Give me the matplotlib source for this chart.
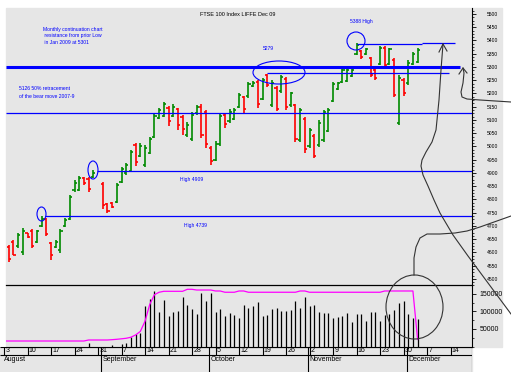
import numpy as np
import matplotlib
matplotlib.use("Agg")
import matplotlib.pyplot as plt
from matplotlib.patches import Ellipse, Rectangle
from matplotlib.lines import Line2D
from matplotlib.ticker import MultipleLocator

nan = np.nan

# weekday index 0 = Mon 3 Aug 2009, bars run 4 Aug .. 3 Dec (31 Aug is a holiday)
bar_days = list(range(1, 89))

opens = [4620, 4640, 4625, 4600, 4672, 4680, 4640, 4700, 4725, 4635,
         4620, 4610, 4700, 4728, 4835, 4835, 4880, 4878, 4885, nan,
         4860, 4782, 4785, 4792, 4866, 4900, 4908, 5005, 4965, 4930,
         4975, 5035, 5108, 5115, 5145, 5115, 5140, 5112, 5045, 5030,
         5125, 5150, 5130, 4995, 4950, 5010, 5120, 5095, 5105, 5150,
         5185, 5190, 5228, 5245, 5180, 5268, 5155, 5220, 5208, 5255,
         5155, 5155, 5025, 5105, 5000, 5040, 5005, 5025, 5060, 5172,
         5217, 5244, 5248, 5265, 5350, 5360, 5348, 5334, 5290, 5312,
         5372, 5312, 5328, 5090, 5250, 5240, 5312, 5320]
highs = [4628, 4647, 4673, 4692, 4675, 4688, 4685, 4738, 4730, 4640,
         4647, 4688, 4730, 4817, 4873, 4889, 4885, 4885, 4911, nan,
         4866, 4787, 4790, 4862, 4923, 4938, 4987, 5013, 5013, 5006,
         5036, 5123, 5145, 5168, 5153, 5160, 5145, 5119, 5092, 5130,
         5157, 5160, 5138, 5002, 5021, 5123, 5126, 5141, 5145, 5202,
         5191, 5243, 5247, 5251, 5258, 5274, 5251, 5228, 5270, 5262,
         5206, 5160, 5145, 5111, 5070, 5047, 5100, 5138, 5145, 5243,
         5243, 5296, 5296, 5296, 5391, 5364, 5372, 5338, 5296, 5379,
         5379, 5372, 5334, 5270, 5258, 5326, 5357, 5372]
lows = [4564, 4590, 4617, 4590, 4655, 4617, 4636, 4696, 4662, 4572,
        4617, 4598, 4696, 4722, 4828, 4832, 4855, 4828, 4881, nan,
        4764, 4749, 4768, 4787, 4862, 4892, 4904, 4926, 4960, 4923,
        4972, 5032, 5104, 5111, 5077, 5111, 5062, 5043, 5036, 5021,
        5119, 5032, 4994, 4930, 4945, 5002, 5070, 5089, 5100, 5145,
        5126, 5183, 5225, 5145, 5175, 5225, 5149, 5134, 5202, 5138,
        5149, 5017, 5017, 4975, 4994, 4957, 4998, 5017, 5055, 5168,
        5213, 5240, 5243, 5262, 5345, 5330, 5345, 5262, 5251, 5308,
        5300, 5308, 5187, 5081, 5190, 5232, 5308, 5315]
closes = [4575, 4592, 4665, 4680, 4660, 4625, 4680, 4725, 4668, 4590,
          4640, 4682, 4722, 4810, 4862, 4880, 4862, 4840, 4900, nan,
          4780, 4755, 4772, 4855, 4915, 4930, 4980, 4940, 5000, 4995,
          5030, 5115, 5138, 5160, 5095, 5150, 5080, 5065, 5080, 5120,
          5150, 5045, 5010, 4945, 5010, 5115, 5085, 5130, 5138, 5195,
          5140, 5236, 5240, 5160, 5250, 5232, 5240, 5140, 5262, 5150,
          5200, 5030, 5138, 4990, 5062, 4965, 5090, 5130, 5138, 5236,
          5238, 5290, 5290, 5290, 5383, 5338, 5366, 5270, 5258, 5372,
          5308, 5366, 5195, 5260, 5200, 5315, 5350, 5365]

# volume and open interest, weekday index 0..88
vol_days = list(range(0, 89))
volume = [0] * 18 + [11000, 0, 0, 0, 0, 4300, 0, 7100, 9100, 26000,
          35700, 39500, 115700, 134800, 158600, 97700, 132900, 88000, 97700, 102300,
          142300, 118600, 107100, 92900, 153700, 130000, 153700, 97700, 106200, 88000,
          94800, 90000, 80500, 118600, 109100, 115700, 126200, 87100, 90000, 107100,
          109100, 101400, 101400, 104300, 130000, 110900, 142300, 116600, 118600, 97700,
          96600, 94800, 80500, 85100, 87100, 94800, 69100, 92900, 92000, 72900,
          97700, 97700, 72900, 90000, 92000, 104300, 123400, 130000, 92900, 82300,
          77700]
open_interest = [15700] * 18 + [18600] * 5 + [19500, 20600, 22000, 23500, 26500,
                 33000, 43000, 72000, 120000, 148000, 155000] + [157700] * 5 + \
                [163400] * 2 + [161400] * 4 + [158600] * 2 + [155000] * 3 + \
                [158600] * 2 + [155000] * 11 + [158600] * 2 + [155000] * 16 + \
                [158600] * 7 + [20000]

week_days = list(range(0, 100, 5))
week_labels = ["3", "10", "17", "24", "31", "7", "14", "21", "28", "5",
               "12", "19", "26", "2", "9", "16", "23", "30", "7", "14"]
month_names = ["August", "September", "October", "November", "December"]
month_first_day = [0, 21, 44, 65, 86]

resistance = 5300
retracement = 5126
high_4909 = 4909
high_4739 = 4739
level_5279 = 5279
high_5388 = 5388

W, H = 511, 372
GRAY = "#e6e6e6"
BLUE = "#0000ff"
INK = "#333333"


def fxy(x, y):
    # pixel position in the picture -> figure fraction
    return x / W, 1 - y / H


plt.rcParams["font.family"] = ["Liberation Sans", "DejaVu Sans"]

fig = plt.figure(figsize=(W / 100, H / 100), dpi=100)
fig.patches.append(Rectangle(fxy(6, 346.5), 496 / W, 338.5 / H, color=GRAY,
                             transform=fig.transFigure, zorder=-5))
fig.patches.append(Rectangle((0, 0), 472 / W, 25.5 / H, color=GRAY,
                             transform=fig.transFigure, zorder=-5))

ax = fig.add_axes([6 / W, 1 - 285 / H, 466 / W, 277 / H])
axv = fig.add_axes([6 / W, 1 - 346.5 / H, 466 / W, 61.5 / H])
axd = fig.add_axes([0, 0, 472 / W, 25.5 / H])

x0, x1 = 0.4255, 99.57
for a in (ax, axv):
    a.set_facecolor("none")
    a.set_xlim(x0, x1)
    a.tick_params(axis="x", bottom=False, labelbottom=False)
    a.yaxis.tick_right()
    for s in ("left", "top", "bottom"):
        a.spines[s].set_visible(False)
    a.spines["right"].set_linewidth(0.8)

# price panel
ax.set_ylim(4477.2, 5522.6)
ax.set_yticks(np.arange(4500, 5501, 50))
ax.yaxis.set_minor_locator(MultipleLocator(12.5))
ax.tick_params(axis="y", which="major", length=3, width=0.6, labelsize=3.6, pad=7.5)
ax.tick_params(axis="y", which="minor", length=1.5, width=0.5)

x = np.array(bar_days, dtype=float)
o, h, l, c = (np.array(v, dtype=float) for v in (opens, highs, lows, closes))
cols = np.where(c >= o, "#008a00", "#ff0000")
ax.vlines(x, l, h, colors=cols, lw=1.2)
ax.hlines(o, x - 0.45, x, colors=cols, lw=1.2)
ax.hlines(c, x, x + 0.45, colors=cols, lw=1.2)

ax.hlines(resistance, x0, 97.0, colors=BLUE, lw=2.2)
ax.hlines(retracement, x0, x1, colors=BLUE, lw=0.9)
ax.hlines(high_4909, 19.8, x1, colors=BLUE, lw=0.9)
ax.hlines(high_4739, 8.7, x1, colors=BLUE, lw=0.9)
ax.hlines(level_5279, 56.0, 94.7, colors=BLUE, lw=0.9)
ax.hlines(high_5388, 75.0, 89.0, colors=BLUE, lw=0.9)
ax.hlines(high_5388 + 4, 89.0, 96.0, colors=BLUE, lw=0.9)

# volume panel
axv.set_ylim(0, 175714)
axv.spines["top"].set_visible(True)
axv.spines["top"].set_linewidth(0.9)
axv.spines["bottom"].set_visible(True)
axv.spines["bottom"].set_linewidth(0.8)
axv.set_yticks([50000, 100000, 150000])
axv.yaxis.set_minor_locator(MultipleLocator(25000))
axv.tick_params(axis="y", which="major", length=3, width=0.6, labelsize=5, pad=2.5)
axv.tick_params(axis="y", which="minor", length=1.5, width=0.5)
vd = np.array(vol_days, dtype=float)
vv = np.array(volume, dtype=float)
axv.vlines(vd[vv > 0], 0, vv[vv > 0], colors="black", lw=0.9)
axv.plot(vd, open_interest, color="#ff00ff", lw=0.9)

# date strip
axd.set_xlim(-0.851, x1)
axd.set_ylim(0, 1)
axd.axis("off")
axd.hlines([0.99, 0.667], -0.851, x1, colors="black", lw=0.8)
axd.vlines(week_days, 0.667, 1, colors="black", lw=0.8)
axd.vlines(x1 - 0.05, 0, 1, colors="black", lw=0.8)
for d, lab in zip(week_days, week_labels):
    axd.text(d + 0.3, 0.83, lab, fontsize=5, ha="left", va="center")
for d, name in zip(month_first_day, month_names):
    if d > 0:
        axd.vlines(d - 0.3, 0, 1, colors="black", lw=0.8)
    axd.text(d + 0.05, 0.48, name, fontsize=5, ha="left", va="center")

# hand marks on the chart
for cx, cy, w, hh in [(41.5, 214, 9, 14), (93, 170, 10, 18), (279, 72.5, 52, 23), (356, 41, 18, 18)]:
    fig.patches.append(Ellipse(fxy(cx, cy), w / W, hh / H, fill=False, ec=BLUE, lw=0.8,
                               transform=fig.transFigure, zorder=5))
fig.patches.append(Ellipse(fxy(414.5, 307), 57 / W, 64 / H, fill=False, ec=INK, lw=0.8,
                           transform=fig.transFigure, zorder=5))

curves = [
    [(443, 44), (441, 70), (439, 100), (436, 130), (432, 142), (426, 152), (422, 160),
     (421, 166), (423, 175), (428, 186), (434, 200), (440, 213), (453, 235), (468, 256), (511, 314)],
    [(414, 275), (414, 258), (416, 247), (420, 238), (427, 234), (440, 234), (455, 233),
     (467, 231), (480, 227), (511, 216)],
    [(463, 68), (464, 73), (463, 83), (461, 92), (462, 97), (467, 99), (480, 100), (511, 102)],
    [(439, 52), (443, 44), (447, 51)],
    [(459, 74), (463, 68), (467, 73)],
]
for pts in curves:
    xs, ys = zip(*[fxy(px, py) for px, py in pts])
    fig.add_artist(Line2D(xs, ys, color=INK, lw=0.8, transform=fig.transFigure, zorder=5))

fig.text(*fxy(238, 15), "FTSE 100 Index LIFFE Dec 09", fontsize=4, ha="center", va="center")
fig.text(*fxy(43, 26.5), "Monthly continuation chart\n resistance from prior Low\n in Jan 2009 at 5301",
         fontsize=3.6, color=BLUE, ha="left", va="top", linespacing=1.45)
fig.text(*fxy(19, 86.5), "5126 50% retracement\nof the bear move 2007-9",
         fontsize=3.6, color=BLUE, ha="left", va="top", linespacing=1.6)
fig.text(*fxy(263, 49), "5279", fontsize=3.6, color=BLUE, ha="left", va="center")
fig.text(*fxy(350, 21), "5388 High", fontsize=3.6, color=BLUE, ha="left", va="center")
fig.text(*fxy(180, 180), "High 4909", fontsize=3.6, color=BLUE, ha="left", va="center")
fig.text(*fxy(184, 226), "High 4739", fontsize=3.6, color=BLUE, ha="left", va="center")

fig.savefig("out.png", dpi=100)
